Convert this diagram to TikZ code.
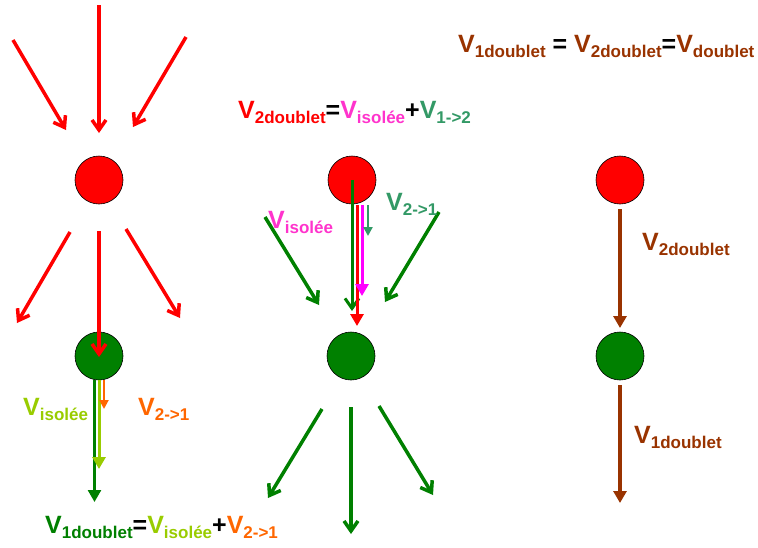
\documentclass[tikz,border=0pt]{standalone}
\usepackage{fontspec}
\setmainfont{Liberation Sans}
\usetikzlibrary{arrows.meta}

\definecolor{vred}{HTML}{FF0000}
\definecolor{vgreen}{HTML}{008000}
\definecolor{vlime}{HTML}{99CC00}
\definecolor{vorange}{HTML}{FF6600}
\definecolor{vpink}{HTML}{FF33CC}
\definecolor{vmagenta}{HTML}{FF00FF}
\definecolor{vsea}{HTML}{339966}
\definecolor{vbrown}{HTML}{993300}

\newcommand{\vel}[1]{{\fontsize{25}{25}\selectfont V}\raisebox{-5pt}{\fontsize{17}{17}\selectfont #1}}
\newcommand{\sym}[1]{{\fontsize{25}{25}\selectfont\color{black}#1}}

\tikzset{
  ball/.style={circle, draw=black, line width=0.6pt, minimum size=48pt, inner sep=0pt},
  barb/.style={line width=3.5pt, -{Straight Barb[length=10pt,width=14pt]}},
  tri/.style={line width=3.5pt, -{Triangle[length=12pt,width=13pt]}},
  smalltri/.style={line width=2.5pt, -{Triangle[length=9pt,width=9pt]}},
  lbl/.style={inner sep=0pt, anchor=base west, font=\bfseries},
}

\begin{document}
\begin{tikzpicture}[x=1pt,y=-1pt]
            \useasboundingbox (0,0) rectangle (758,547);

            % the two atoms of each doublet
            \node[ball, fill=vred] (R1) at (99,180) {};
            \node[ball, fill=vgreen] (G1) at (99,356) {};
            \node[ball, fill=vred] (R2) at (352,180) {};
            \node[ball, fill=vgreen] (G2) at (351,356) {};
            \node[ball, fill=vred] (R3) at (620,180) {};
            \node[ball, fill=vgreen] (G3) at (620,356) {};

            % left column
            \coordinate (a1) at (13,40);   \coordinate (b1) at (66,130);
            \coordinate (a2) at (99,5);    \coordinate (b2) at (99,133);
            \coordinate (a3) at (186,37);  \coordinate (b3) at (133,127);
            \coordinate (a4) at (70,232);  \coordinate (b4) at (17,323);
            \coordinate (a5) at (99,231);  \coordinate (b5) at (99,357);
            \coordinate (a6) at (126,229); \coordinate (b6) at (180,318);
            \coordinate (a7) at (94.5,380);  \coordinate (b7) at (94.5,502);
            \coordinate (a8) at (99,380);  \coordinate (b8) at (99,469);
            \coordinate (a9) at (104,380); \coordinate (b9) at (104,409);

            \path (a1) edge[barb, vred] (b1);
            \path (a2) edge[barb, vred] (b2);
            \path (a3) edge[barb, vred] (b3);
            \path (a4) edge[barb, vred] (b4);
            \path (a5) edge[barb, vred] (b5);
            \path (a6) edge[barb, vred] (b6);
            \path (a7) edge[tri, line width=2.5pt, vgreen] (b7);
            \path (a8) edge[tri, line width=3pt, vlime] (b8);
            \path (a9) edge[smalltri, line width=2pt, vorange] (b9);

            % middle column
            \coordinate (c1) at (265,217); \coordinate (d1) at (319,305);
            \coordinate (c2) at (439,212); \coordinate (d2) at (385,302);
            \coordinate (d3) at (352,311);
            \coordinate (c4) at (357,205); \coordinate (d4) at (357,326);
            \coordinate (c5) at (362,205); \coordinate (d5) at (362,296);
            \coordinate (c6) at (368,205); \coordinate (d6) at (368,236);
            \coordinate (c7) at (322,409); \coordinate (d7) at (268,498);
            \coordinate (c8) at (351,407); \coordinate (d8) at (351,534);
            \coordinate (c9) at (379,406); \coordinate (d9) at (433,495);

            \path (c1) edge[barb, vgreen] (d1);
            \path (c2) edge[barb, vgreen] (d2);
            \path (R2.center) edge[barb, line width=3pt, vgreen] (d3);
            \path (c4) edge[tri, line width=3pt, vred] (d4);
            \path (c5) edge[tri, line width=3pt, vmagenta] (d5);
            \path (c6) edge[smalltri, vsea] (d6);
            \path (c7) edge[barb, vgreen] (d7);
            \path (c8) edge[barb, vgreen] (d8);
            \path (c9) edge[barb, vgreen] (d9);

            % right column
            \coordinate (e1) at (620,209); \coordinate (f1) at (620,328);
            \coordinate (e2) at (620,385); \coordinate (f2) at (620,503);
            \path (e1) edge[tri, line width=4pt, vbrown] (f1);
            \path (e2) edge[tri, line width=4pt, vbrown] (f2);

            % labels
            \node[lbl, text=vlime] (Li) at (23,415) {\vel{isolée}};
            \node[lbl, text=vorange] (Lo) at (138,415) {\vel{2->1}};
            \node[lbl, text=vpink] (Mi) at (268,228) {\vel{isolée}};
            \node[lbl, text=vsea] (Ms) at (386,210) {\vel{2->1}};
            \node[lbl, text=vbrown] (Rt) at (642,250) {\vel{2doublet}};
            \node[lbl, text=vbrown] (Rb) at (634,443) {\vel{1doublet}};

            % formulas
            \node[lbl, text=vbrown] (F0) at (458,52) {\vel{1doublet}\sym{\ =\ }\vel{2doublet}\sym{=}\vel{doublet}};
            \node[lbl, text=vred] (F2) at (238,118) {\vel{2doublet}\sym{=}{\color{vpink}\vel{isolée}}\sym{+}{\color{vsea}\vel{1->2}}};
            \node[lbl, text=vgreen] (F1) at (45,533) {\vel{1doublet}\sym{=}{\color{vlime}\vel{isolée}}\sym{+}{\color{vorange}\vel{2->1}}};

        \end{tikzpicture}
\end{document}
